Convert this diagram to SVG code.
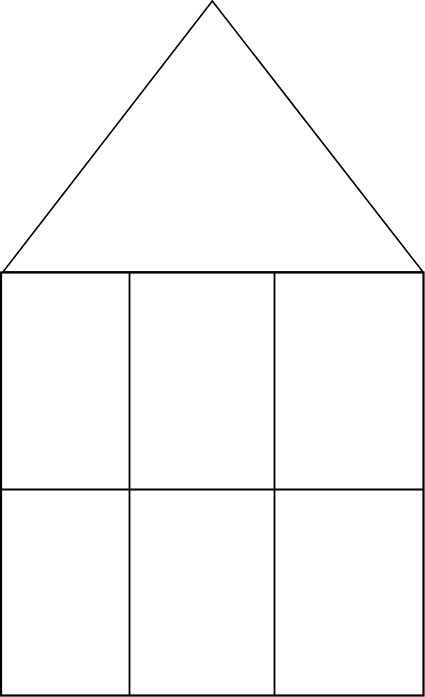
<svg xmlns="http://www.w3.org/2000/svg" width="425" height="697" viewBox="0 0 425 697">
<style>
.s{fill:none;stroke:#000;stroke-linejoin:miter}
</style>
<rect width="425" height="697" fill="#fff"/>
<g id="roof"><polygon class="s" stroke-width="1.6" points="212.3,1 3,272 423,272"/></g>
<g id="walls"><rect class="s" stroke-width="2.2" x="1" y="272.5" width="422.5" height="423"/></g>
<g id="connectors">
<line class="s" stroke-width="1.8" x1="129.5" y1="272" x2="129.5" y2="695"/>
<line class="s" stroke-width="1.8" x1="274.5" y1="272" x2="274.5" y2="695"/>
<line class="s" stroke-width="1.8" x1="1" y1="489.5" x2="423" y2="489.5"/>
</g>
</svg>
